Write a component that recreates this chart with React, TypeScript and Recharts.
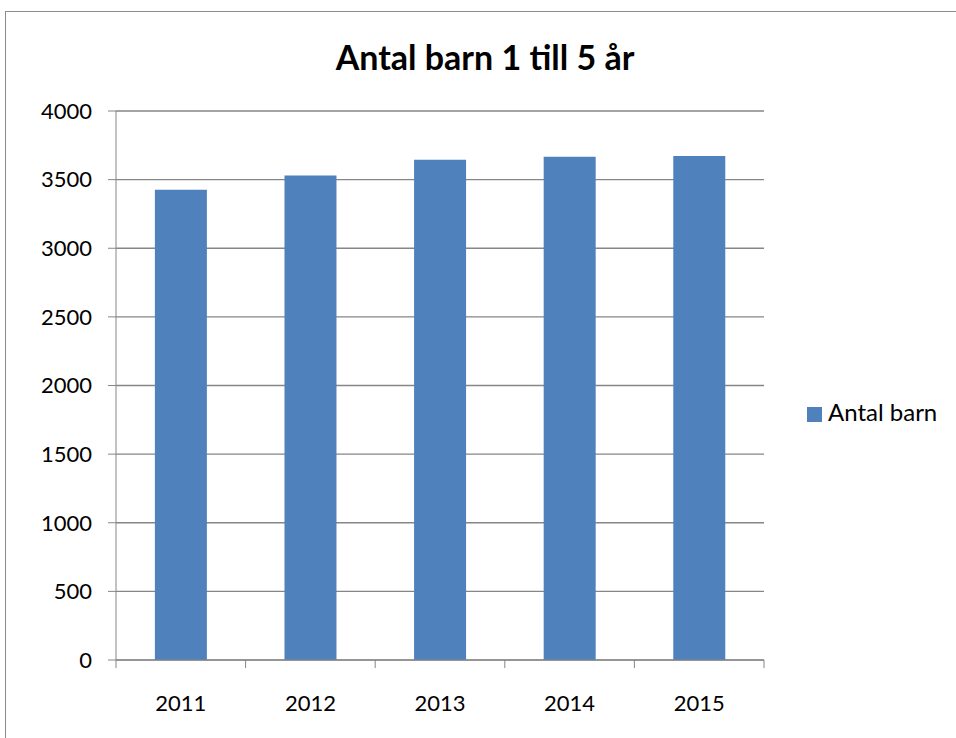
import { BarChart, Bar, XAxis, YAxis, CartesianGrid, Legend } from 'recharts'

const years = ['2011', '2012', '2013', '2014', '2015']
const antalBarn = [3426, 3530, 3644, 3666, 3673]
const yTicks = [0, 500, 1000, 1500, 2000, 2500, 3000, 3500, 4000]

const data = years.map((year, i) => ({ year, 'Antal barn': antalBarn[i] }))

const font = 'Lato, "Open Sans", sans-serif'
const grey = '#868686'

// Excel-style category axis: tick marks sit between the categories, label centred below
function YearTick(props: any) {
  const { x, y, payload, index, visibleTicksCount } = props
  const off = payload.offset ?? 0
  const isLast = index === visibleTicksCount - 1
  return (
    <g>
      <line x1={x - off} x2={x - off} y1={y} y2={y + 8} stroke={grey} />
      {isLast && <line x1={x + off} x2={x + off} y1={y} y2={y + 8} stroke={grey} />}
      <text x={x} y={y + 51} textAnchor="middle" fill="#000" fontSize={22} fontFamily={font}>
        {payload.value}
      </text>
    </g>
  )
}

export default function App() {
  return (
    <div style={{ position: 'absolute', left: 0, top: 0, width: 956, height: 738, overflow: 'hidden', background: '#fff', fontFamily: font }}>
      <div style={{ position: 'absolute', left: 5, top: 11, width: 1000, height: 1000, border: '1px solid #8c8c8c' }} />
      <div style={{ position: 'absolute', left: 0, width: 970, top: 36, textAlign: 'center', fontSize: 34, fontWeight: 700, color: '#000', lineHeight: '42px' }}>
        Antal barn 1 till 5 år
      </div>
      <div style={{ position: 'absolute', left: 0, top: 0 }}>
        <BarChart width={956} height={738} data={data} margin={{ top: 111, right: 32, bottom: 38, left: 0 }} barCategoryGap="30%">
          <CartesianGrid vertical={false} stroke={grey} strokeWidth={1.3} />
          <XAxis dataKey="year" tickLine={false} tickSize={0} tickMargin={0} axisLine={{ stroke: grey }} height={40}
            tick={<YearTick />} interval={0} />
          <YAxis domain={[0, 4000]} ticks={yTicks} width={116} tickSize={8} tickMargin={16} interval={0}
            tickLine={{ stroke: grey }} axisLine={{ stroke: grey }}
            tick={{ fill: '#000', fontSize: 22, fontFamily: font }} />
          <Legend layout="vertical" align="right" verticalAlign="middle" iconType="square" iconSize={15}
            wrapperStyle={{ left: 807, top: 397, width: 160, fontSize: 24, fontFamily: font }}
            formatter={(v: string) => <span style={{ color: '#000', marginLeft: 2 }}>{v}</span>} />
          <Bar dataKey="Antal barn" fill="#4F81BD" isAnimationActive={false} />
        </BarChart>
      </div>
    </div>
  )
}
